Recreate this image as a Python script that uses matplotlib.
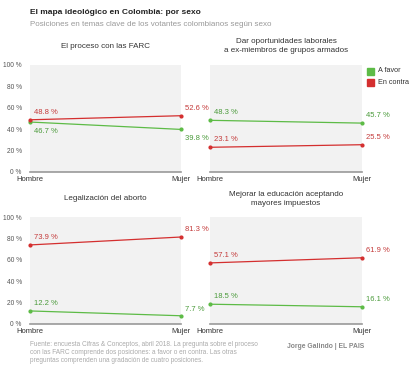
import matplotlib
matplotlib.use("Agg")
import matplotlib.pyplot as plt
from matplotlib.patches import Rectangle

plt.rcParams['font.family'] = ['Liberation Sans', 'DejaVu Sans']

groups = ["Hombre", "Mujer"]
titles = ["El proceso con las FARC",
          "Dar oportunidades laborales\na ex-miembros de grupos armados",
          "Legalización del aborto",
          "Mejorar la educación aceptando\nmayores impuestos"]
favor = [[46.7, 39.8], [48.3, 45.7], [12.2, 7.7], [18.5, 16.1]]
contra = [[48.8, 52.6], [23.1, 25.5], [73.9, 81.3], [57.1, 61.9]]
yticks = [0, 20, 40, 60, 80, 100]

GREEN = '#5dbb46'
RED = '#d42f2f'
GREEN_T = '#4a9a3a'
RED_T = '#c43a3a'

W, H = 414, 373
fig = plt.figure(figsize=(W/100, H/100), dpi=100)

def ax_rect(x0, x1, ytop, ybot):
    return [x0/W, 1-ybot/H, (x1-x0)/W, (ybot-ytop)/H]

rects = [ax_rect(30, 181, 65, 172), ax_rect(210, 362, 65, 172),
         ax_rect(30, 181, 217, 324), ax_rect(210, 362, 217, 324)]
title_y = [46, 46, 199, 199]

fav_off = [(-9, -9), (3, 3), (3, 2), (3, 3)]
con_off = [(3, 3), (3, 3), (3, 3), (3, 3)]

for i, r in enumerate(rects):
    ax = fig.add_axes(r)
    ax.set_facecolor('#f2f2f2')
    ax.set_xlim(0, 1)
    ax.set_ylim(0, 100)
    for s in ['top', 'right', 'left']:
        ax.spines[s].set_visible(False)
    ax.spines['bottom'].set_color('#999999')
    ax.spines['bottom'].set_linewidth(1.2)
    ax.set_xticks([0, 1])
    ax.set_xticklabels(groups, fontsize=5.5, color='#333333')
    ax.tick_params(axis='x', length=0, pad=3)
    ax.set_yticks(yticks)
    if i % 2 == 0:
        ax.set_yticklabels([f"{t} %" for t in yticks], fontsize=4.8, color='#555555')
    else:
        ax.set_yticklabels([])
    ax.tick_params(axis='y', length=0, pad=6)
    ax.plot([0, 1], favor[i], color=GREEN, lw=0.9, marker='o', ms=2, clip_on=False, zorder=3)
    ax.plot([0, 1], contra[i], color=RED, lw=0.9, marker='o', ms=2, clip_on=False, zorder=3)
    for vals, offs, col in [(favor[i], fav_off[i], GREEN_T), (contra[i], con_off[i], RED_T)]:
        ax.annotate(f"{vals[0]} %", (0, vals[0]), xytext=(3, offs[0]), textcoords='offset points',
                    fontsize=5.5, color=col, va='bottom', ha='left')
        ax.annotate(f"{vals[1]} %", (1, vals[1]), xytext=(3, offs[1]), textcoords='offset points',
                    fontsize=5.5, color=col, va='bottom', ha='left', annotation_clip=False)
    cx = (r[0] + r[2]/2)
    fig.text(cx, 1 - title_y[i]/H, titles[i], fontsize=5.8, color='#333333',
             ha='center', va='center', linespacing=1.5)

# legend
for j, (lab, col) in enumerate([("A favor", GREEN), ("En contra", RED)]):
    y = 71 + j*11
    fig.patches.append(Rectangle(((367)/W, 1-(y+3.5)/H), 7/W, 7/H, color=col,
                                 transform=fig.transFigure, figure=fig))
    fig.text(378/W, 1-y/H, lab, fontsize=5.2, color='#333333', va='center', ha='left')

fig.text(30/W, 1-12/H, "El mapa ideológico en Colombia: por sexo", fontsize=6.0,
         fontweight='bold', color='#222222', va='center', ha='left')
fig.text(30/W, 1-24/H, "Posiciones en temas clave de los votantes colombianos según sexo",
         fontsize=5.8, color='#999999', va='center', ha='left')
fig.text(30/W, 1-341/H,
         "Fuente: encuesta Cifras & Conceptos, abril 2018. La pregunta sobre el proceso\n"
         "con las FARC comprende dos posiciones: a favor o en contra. Las otras\n"
         "preguntas comprenden una gradación de cuatro posiciones.",
         fontsize=4.7, color='#aaaaaa', va='top', ha='left', linespacing=1.25)
fig.text(287/W, 1-346/H, "Jorge Galindo | EL PAIS", fontsize=4.9, fontweight='bold',
         color='#888888', va='center', ha='left')

fig.savefig("out.png", dpi=100, facecolor='white')
